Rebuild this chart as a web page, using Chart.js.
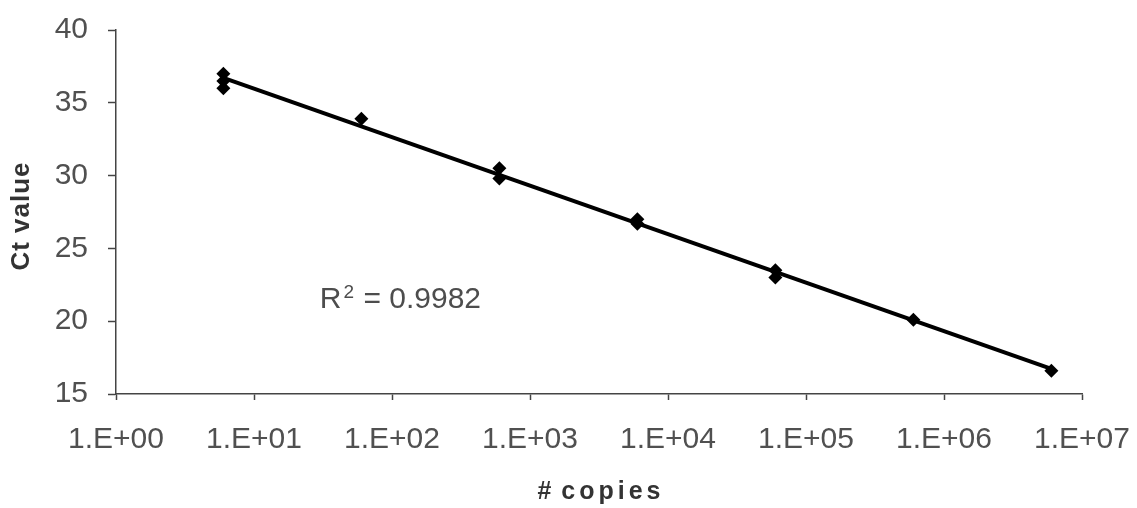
<!DOCTYPE html>
<html>
<head>
<meta charset="utf-8">
<script src="https://cdn.jsdelivr.net/npm/chart.js@4/dist/chart.umd.min.js"></script>
<style>
  html, body { margin: 0; padding: 0; background: #fff; }
  #wrap { width: 1137px; height: 508px; }
</style>
</head>
<body>
<div id="wrap"><canvas id="stdCurve"></canvas></div>
<script>
// standard curve: copy number vs Ct
var copies = [6, 6, 6, 60, 600, 600, 6000, 6000, 60000, 60000, 600000, 6000000]
var ctValues = [37.0, 36.5, 36.0, 33.9, 30.5, 29.8, 27.0, 26.7, 23.5, 23.0, 20.1, 16.6]

var tickValues = [1, 1e1, 1e2, 1e3, 1e4, 1e5, 1e6, 1e7]
var tickLabels = ["1.E+00", "1.E+01", "1.E+02", "1.E+03", "1.E+04", "1.E+05", "1.E+06", "1.E+07"]
var xTitle = "# copies"
var yTitle = "Ct value"
var rSquared = "0.9982"

var FONT = "'Liberation Sans', Arial, sans-serif"

// least squares fit of Ct against log10(copies)
function fitLine(xs, ys) {
    var lx = xs.map(function (v) { return Math.log10(v) })
    var n = lx.length, sx = 0, sy = 0, sxx = 0, sxy = 0
    for (var i = 0; i < n; i++) {
        sx += lx[i]; sy += ys[i]; sxx += lx[i] * lx[i]; sxy += lx[i] * ys[i]
    }
    var slope = (n * sxy - sx * sy) / (n * sxx - sx * sx)
    var icpt = (sy - slope * sx) / n
    var xMin = Math.min.apply(null, xs), xMax = Math.max.apply(null, xs)
    return [
        { x: xMin, y: icpt + slope * Math.log10(xMin) },
        { x: xMax, y: icpt + slope * Math.log10(xMax) }
    ]
}

var points = copies.map(function (c, i) { return { x: c, y: ctValues[i] } })
var trend = fitLine(copies, ctValues)

// axis titles (spaced lettering) and the R² note
var annotations = {
    id: "annotations",
    afterDraw: function (chart) {
        var ctx = chart.ctx
        var area = chart.chartArea
        ctx.save()

        ctx.fillStyle = "#333"
        ctx.textAlign = "center"
        ctx.textBaseline = "middle"
        ctx.font = "bold 25px " + FONT
        ctx.letterSpacing = "4px"
        ctx.wordSpacing = "-5px"
        ctx.fillText(xTitle, (area.left + area.right) / 2 + 2, 492)

        ctx.letterSpacing = "1px"
        ctx.wordSpacing = "0px"
        ctx.font = "bold 26px " + FONT
        ctx.translate(22, (area.top + area.bottom) / 2 + 4)
        ctx.rotate(-Math.PI / 2)
        ctx.fillText(yTitle, 0, 0)
        ctx.restore()

        ctx.save()
        var px = chart.scales.x.getPixelForValue(30)
        var py = chart.scales.y.getPixelForValue(20.9)
        ctx.fillStyle = "#4d4d4d"
        ctx.textAlign = "left"
        ctx.textBaseline = "alphabetic"
        ctx.font = "30px " + FONT
        ctx.fillText("R", px, py)
        var w = ctx.measureText("R").width
        ctx.font = "19px " + FONT
        ctx.fillText("2", px + w + 2, py - 10)
        var w2 = ctx.measureText("2").width
        ctx.font = "30px " + FONT
        ctx.fillText(" = " + rSquared, px + w + w2 + 3, py)
        ctx.restore()
    }
}

new Chart("stdCurve", {
    type: "scatter",
    data: {
        datasets: [{
            type: "line",
            data: trend,
            borderColor: "#000",
            borderWidth: 4,
            pointRadius: 0,
            fill: false
        }, {
            data: points,
            pointStyle: "rectRot",
            pointRadius: 7,
            backgroundColor: "#000",
            borderColor: "#000",
            borderWidth: 0
        }]
    },
    options: {
        responsive: true,
        maintainAspectRatio: false,
        animation: false,
        layout: { padding: { left: 0, right: 55, top: 30, bottom: 0 } },
        plugins: { legend: { display: false }, tooltip: { enabled: false } },
        scales: {
            x: {
                type: "logarithmic",
                min: 1,
                max: 1e7,
                afterBuildTicks: function (scale) {
                    scale.ticks = tickValues.map(function (v) { return { value: v } })
                },
                afterFit: function (scale) {
                    scale.height = 114
                    scale.paddingLeft = 0
                    scale.paddingRight = 0
                },
                border: { display: true, color: "#444", width: 1.5 },
                grid: { drawOnChartArea: false, drawTicks: true, tickLength: 6, color: "#444", tickWidth: 1.5 },
                ticks: {
                    padding: 22,
                    color: "#505050",
                    maxRotation: 0,
                    autoSkip: false,
                    font: { family: FONT, size: 30 },
                    callback: function (v) {
                        var i = tickValues.indexOf(v)
                        return i >= 0 ? tickLabels[i] : null
                    }
                }
            },
            y: {
                min: 15,
                max: 40,
                afterFit: function (scale) {
                    scale.width = 116
                    scale.paddingTop = 0
                    scale.paddingBottom = 0
                },
                border: { display: true, color: "#444", width: 1.5 },
                grid: { drawOnChartArea: false, drawTicks: true, tickLength: 8, color: "#444", tickWidth: 1.5 },
                ticks: {
                    stepSize: 5,
                    padding: 20,
                    color: "#505050",
                    font: { family: FONT, size: 30 }
                }
            }
        }
    },
    plugins: [annotations]
})
</script>
</body>
</html>
